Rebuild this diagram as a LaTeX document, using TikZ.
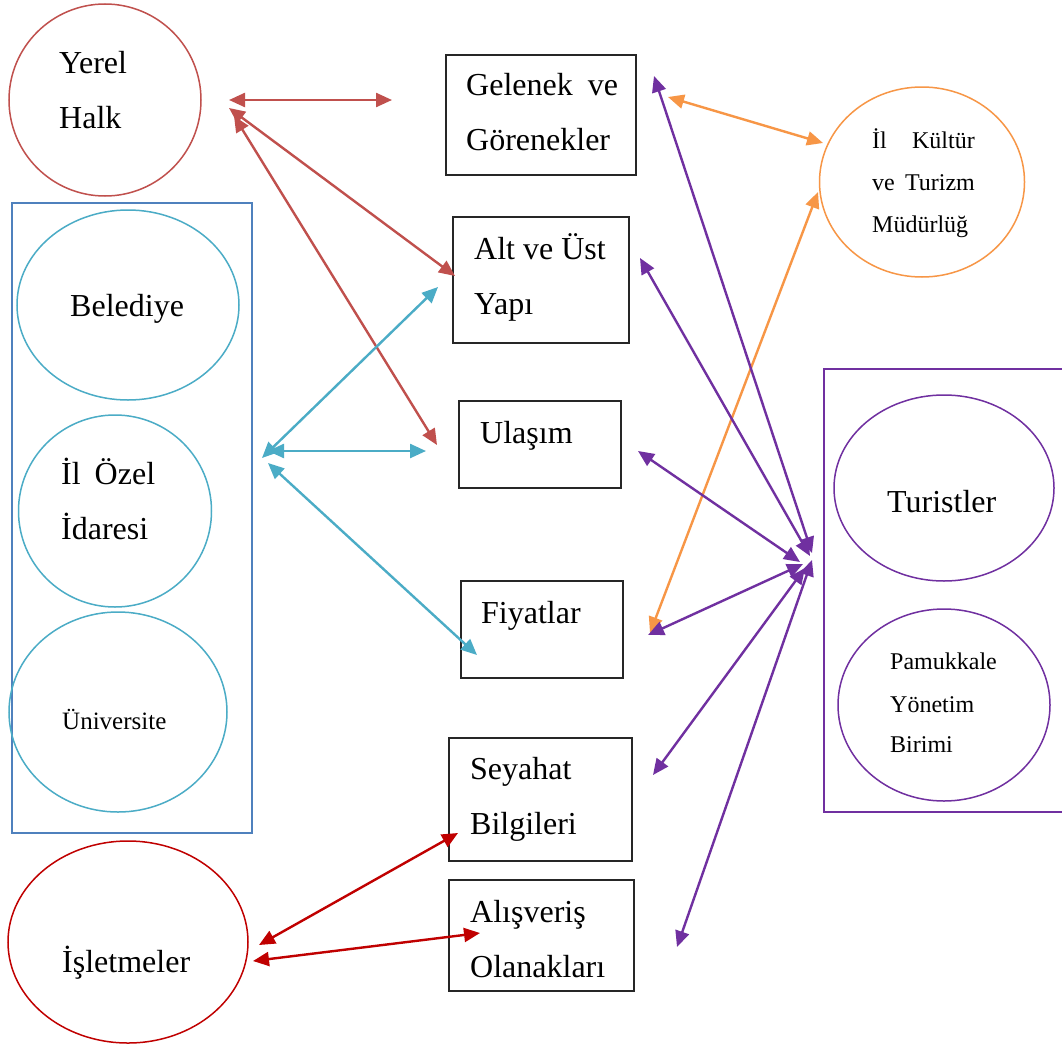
\documentclass[tikz,border=0pt]{standalone}
\usepackage{fontspec}
\setmainfont{Liberation Serif}
\usetikzlibrary{arrows.meta,shapes.geometric}
\definecolor{redA}{RGB}{192,80,77}
\definecolor{tealA}{RGB}{75,172,198}
\definecolor{blueR}{RGB}{79,129,189}
\definecolor{orangeA}{RGB}{247,150,70}
\definecolor{purpleA}{RGB}{112,48,160}
\definecolor{darkredA}{RGB}{192,0,0}
\begin{document}
\begin{tikzpicture}[x=1pt,y=-1pt,
  shp/.style={draw, line width=1.5pt, inner sep=0pt},
  ell/.style={shp, ellipse},
  boxn/.style={draw=black!85, line width=1.2pt, rectangle, inner sep=0pt},
  big/.style={anchor=base west, inner sep=0pt, font=\fontsize{32}{38}\selectfont},
  small/.style={anchor=base west, inner sep=0pt, font=\fontsize{24}{28}\selectfont},
  conn/.style={line width=2.4pt, {Triangle[length=16pt,width=14pt]}-{Triangle[length=16pt,width=14pt]}}]
\useasboundingbox (0,0) rectangle (1062,1044);
\fill[white] (0,0) rectangle (1062,1044);

% shapes
\node[ell, draw=redA, minimum width=192pt, minimum height=192pt] (yerel) at (105,100) {};
\node[shp, rectangle, draw=blueR, minimum width=240pt, minimum height=630pt] (grpL) at (132,518) {};
\node[ell, draw=tealA, minimum width=222pt, minimum height=190pt] (beled) at (128,305) {};
\node[ell, draw=tealA, minimum width=193pt, minimum height=192pt] (ozel) at (115,511) {};
\node[ell, draw=tealA, minimum width=218pt, minimum height=200pt] (univ) at (118,712) {};
\node[ell, draw=darkredA, minimum width=240pt, minimum height=202pt] (islet) at (128,942) {};
\node[ell, draw=orangeA, minimum width=205pt, minimum height=190pt] (kultur) at (922,182) {};
\draw[purpleA, line width=1.5pt] (1070,369) -- (824,369) -- (824,812) -- (1070,812);
\node[ell, draw=purpleA, minimum width=220pt, minimum height=186pt] (turist) at (944,488) {};
\node[ell, draw=purpleA, minimum width=212pt, minimum height=192pt] (pamuk) at (944,705) {};

\node[boxn, minimum width=190pt, minimum height=120pt] (gel) at (541,115) {};
\node[boxn, minimum width=176pt, minimum height=126pt] (alt) at (541,280) {};
\node[boxn, minimum width=162pt, minimum height=87pt] (ula) at (540,444.5) {};
\node[boxn, minimum width=162pt, minimum height=97pt] (fiy) at (542,629.5) {};
\node[boxn, minimum width=183pt, minimum height=123pt] (sey) at (540.5,799.5) {};
\node[boxn, minimum width=185pt, minimum height=111pt] (ali) at (541.5,935.5) {};

% texts
\node[big] (tYerel) at (59,73) {Yerel};
\node[big] (tHalk) at (59,128) {Halk};
\node[big] (tBeled) at (70,316) {Belediye};
\node[big] (tOzel) at (61,484) {İl\hspace{14pt}Özel};
\node[big] (tIdare) at (61,539) {İdaresi};
\node[small, font=\fontsize{25}{30}\selectfont] (tUniv) at (62,729) {Üniversite};
\node[big] (tIslet) at (62,972) {İşletmeler};
\node[big] (tGel) at (466,95) {Gelenek\hspace{15pt}ve};
\node[big] (tGor) at (466,150) {Görenekler};
\node[big] (tAlt) at (474,259) {Alt ve Üst};
\node[big] (tYapi) at (474,314) {Yapı};
\node[big] (tUla) at (480,443) {Ulaşım};
\node[big] (tFiy) at (481,623) {Fiyatlar};
\node[big] (tSey) at (470,779) {Seyahat};
\node[big] (tBil) at (470,834) {Bilgileri};
\node[big] (tAli) at (470,922) {Alışveriş};
\node[big] (tOla) at (470,977) {Olanakları};
\node[small] (tIl) at (872,148) {İl};
\node[small, anchor=base east] (tKul) at (975,148) {Kültür};
\node[small] (tVe) at (872,190) {ve};
\node[small, anchor=base east] (tTur) at (975,190) {Turizm};
\node[small] (tMud) at (872,232) {Müdürlüğ};
\node[big] (tTurist) at (887,512) {Turistler};
\node[small] (tPam) at (890,669) {Pamukkale};
\node[small] (tYon) at (890,712) {Yönetim};
\node[small] (tBir) at (890,752) {Birimi};

% connector end points
\coordinate (yh1) at (229,100); \coordinate (gh1) at (392,100);
\coordinate (yh2) at (229,108); \coordinate (ah1) at (455,276);
\coordinate (yh3) at (234,116); \coordinate (uh1) at (437,445);
\coordinate (oz1) at (262,458); \coordinate (ab1) at (438,287);
\coordinate (oz2) at (268,451); \coordinate (ub1) at (426,451);
\coordinate (oz3) at (268,463); \coordinate (fb1) at (477,655);
\coordinate (go1) at (668,97);  \coordinate (ko1) at (823,143);
\coordinate (fo1) at (650,633); \coordinate (ko2) at (818,192);
\coordinate (gp) at (654,76);   \coordinate (tp1) at (812,553);
\coordinate (ap) at (640,258);  \coordinate (tp2) at (810,556);
\coordinate (up) at (638,451);  \coordinate (tp3) at (800,562);
\coordinate (fp) at (648,635);  \coordinate (tp4) at (803,564);
\coordinate (sp) at (653,775);  \coordinate (tp5) at (805,568);
\coordinate (lp) at (677,947);  \coordinate (tp6) at (812,560);
\coordinate (is1) at (259,945); \coordinate (sb1) at (458,833);
\coordinate (is2) at (253,961); \coordinate (al1) at (480,933);

% connectors
\draw[conn, redA] (yh1) -- (gh1);
\draw[conn, redA] (yh2) -- (ah1);
\draw[conn, redA] (yh3) -- (uh1);
\draw[conn, tealA] (oz1) -- (ab1);
\draw[conn, tealA] (oz2) -- (ub1);
\draw[conn, tealA] (oz3) -- (fb1);
\draw[conn, orangeA] (go1) -- (ko1);
\draw[conn, orangeA] (fo1) -- (ko2);
\draw[conn, purpleA] (gp) -- (tp1);
\draw[conn, purpleA] (ap) -- (tp2);
\draw[conn, purpleA] (up) -- (tp3);
\draw[conn, purpleA] (fp) -- (tp4);
\draw[conn, purpleA] (sp) -- (tp5);
\draw[conn, purpleA] (lp) -- (tp6);
\draw[conn, darkredA] (is1) -- (sb1);
\draw[conn, darkredA] (is2) -- (al1);
\end{tikzpicture}
\end{document}
